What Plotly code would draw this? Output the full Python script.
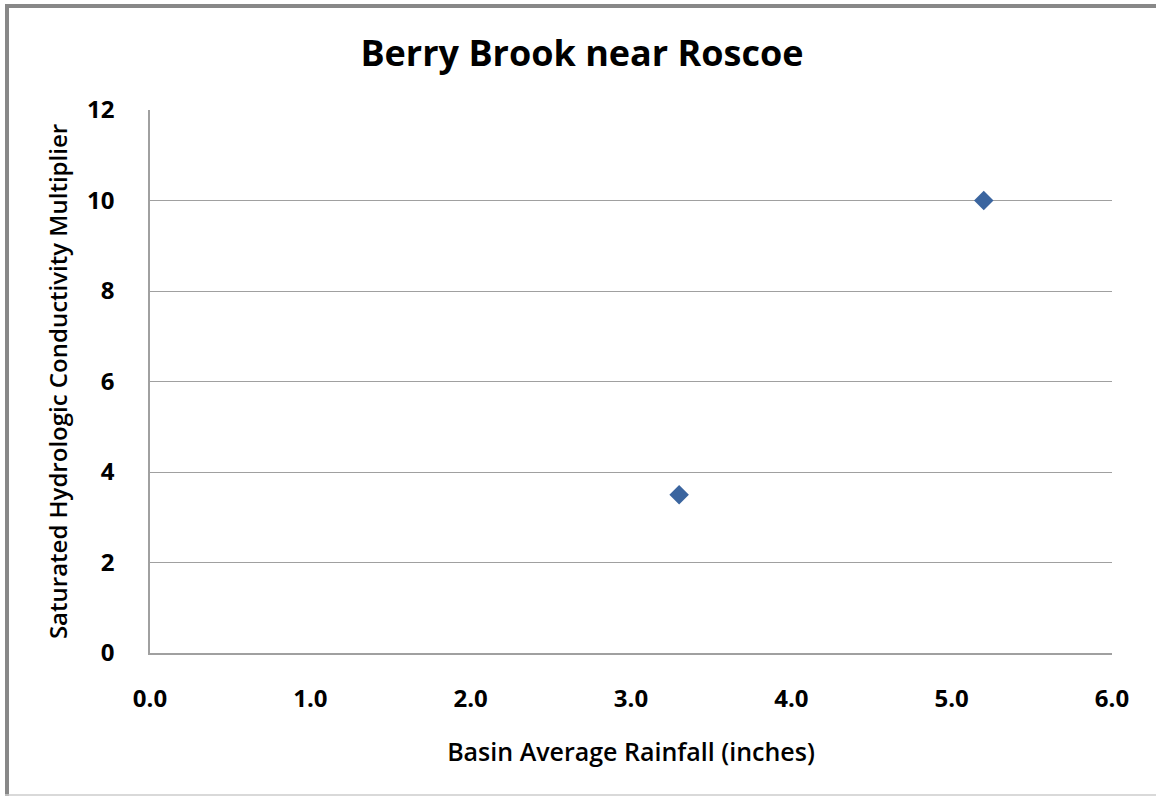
import plotly.graph_objects as go

# Data
rainfall_in = [3.3, 5.2]
ksat_multiplier = [3.5, 10.0]

title_text = "Berry Brook near Roscoe"
x_title = "Basin Average Rainfall (inches)"
y_title = "Saturated Hydrologic Conductivity Multiplier"
x_ticks = [0, 1, 2, 3, 4, 5, 6]
y_ticks = [0, 2, 4, 6, 8, 10, 12]

W, H = 1156, 796
L, R, T, B = 150, 44, 110, 143
FONT = "Open Sans, Lato, Noto Sans, sans-serif"


def px_x(px):
    return (px - L) / (W - L - R)


def px_y(py):
    return (H - B - py) / (H - T - B)


fig = go.Figure()
fig.add_trace(go.Scatter(
    x=rainfall_in, y=ksat_multiplier,
    mode="markers",
    marker=dict(symbol="diamond", size=15, color="#3B659F"),
    showlegend=False,
    hovertemplate="%{x:.1f} in, %{y}<extra></extra>",
))

# outer chart frame (thick grey top/left, light bottom)
frame = [
    dict(x0=px_x(5), x1=px_x(W), y0=px_y(6), y1=px_y(6), color="#888888", width=4),
    dict(x0=px_x(7), x1=px_x(7), y0=px_y(4), y1=px_y(H), color="#888888", width=4),
    dict(x0=px_x(5), x1=px_x(W), y0=px_y(795), y1=px_y(795), color="#cccccc", width=1.5),
]
for f in frame:
    fig.add_shape(type="line", xref="paper", yref="paper",
                  x0=f["x0"], x1=f["x1"], y0=f["y0"], y1=f["y1"],
                  line=dict(color=f["color"], width=f["width"]))

fig.update_xaxes(
    range=[0, 6], tickvals=x_ticks, ticktext=[f"{v:.1f}" for v in x_ticks],
    showgrid=False, zeroline=False,
    showline=True, linecolor="#a0a0a0", linewidth=1.5,
    ticks="", ticklabelstandoff=23,
    tickfont=dict(family=FONT, size=24, color="black", weight="bold"),
    title=dict(text=x_title, standoff=31,
               font=dict(family=FONT, size=25, color="black", weight=600)),
)
fig.update_yaxes(
    range=[0, 12], tickvals=y_ticks,
    showgrid=True, gridcolor="#a0a0a0", gridwidth=1, zeroline=False,
    showline=True, linecolor="#a0a0a0", linewidth=1.5,
    ticks="", ticklabelstandoff=29,
    tickfont=dict(family=FONT, size=24, color="black", weight="bold"),
    title=dict(text=y_title, standoff=13,
               font=dict(family=FONT, size=24, color="black", weight=600)),
)

fig.update_layout(
    width=W, height=H,
    margin=dict(l=L, r=R, t=T, b=B),
    title=dict(text=f"<b>{title_text}</b>", x=px_x(582), xref="paper", xanchor="center",
               y=1 - 53 / H, yanchor="middle",
               font=dict(family=FONT, size=36, color="black")),
    plot_bgcolor="white",
    paper_bgcolor="white",
)

# drop the default page margin so the figure sits at the window's corner
fig.write_html("out.html", config={"displayModeBar": False},
               post_script="document.body.style.margin='0';")
